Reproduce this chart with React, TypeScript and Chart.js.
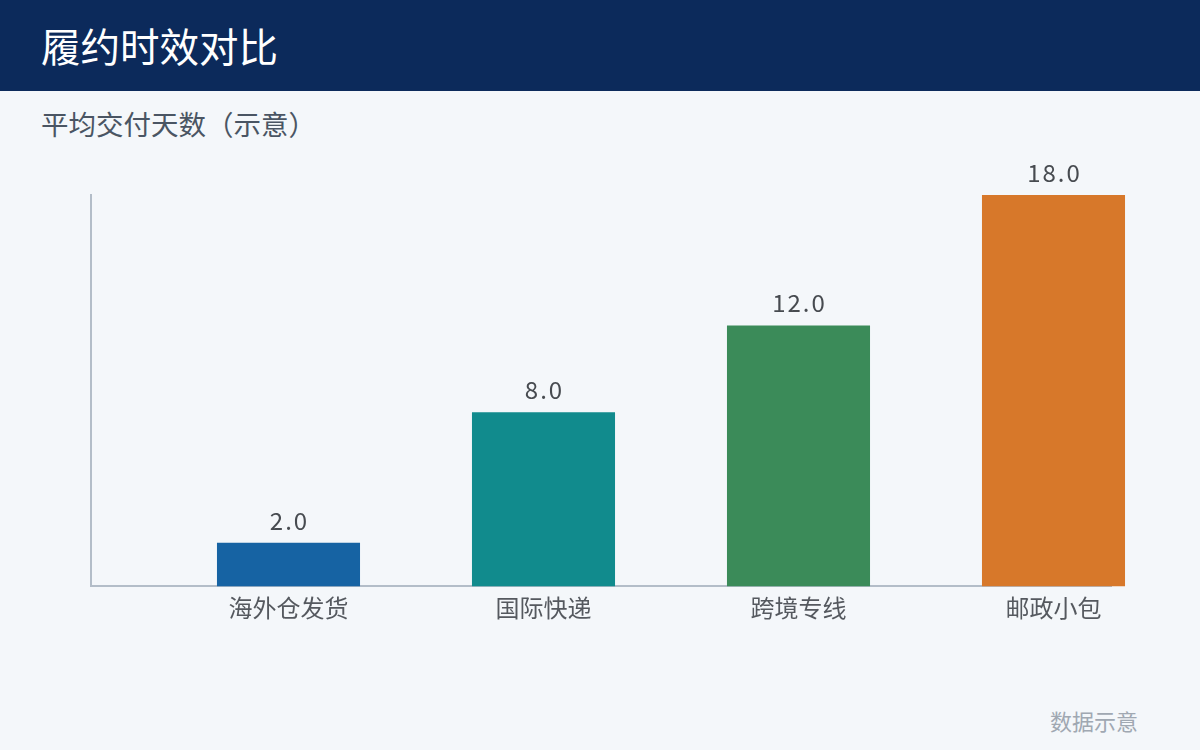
import React, { useEffect, useRef } from "react";
import { Chart, registerables } from "chart.js";

Chart.register(...registerables);

const categories = ["海外仓发货", "国际快递", "跨境专线", "邮政小包"];
const days = [2, 8, 12, 18];
const barColors = ["#1663a3", "#118b8d", "#3b8b59", "#d7782a"];
const yMax = 18;

const CJK = "'Noto Sans CJK SC', 'Noto Sans', sans-serif";

const valueLabels = {
  id: "valueLabels",
  afterDatasetsDraw(chart: any) {
    const ctx = chart.ctx;
    const meta = chart.getDatasetMeta(0);
    ctx.save();
    ctx.font = `24px ${CJK}`;
    try {
      (ctx as any).letterSpacing = "2px";
    } catch (e) {}
    ctx.fillStyle = "#474b50";
    ctx.textAlign = "center";
    ctx.textBaseline = "alphabetic";
    meta.data.forEach((bar: any, i: number) => {
      ctx.fillText(days[i].toFixed(1), bar.x + 1, bar.y - 13);
    });
    ctx.restore();
  },
};

export default function App() {
  const ref = useRef<HTMLCanvasElement | null>(null);

  useEffect(() => {
    if (!ref.current) return;
    const chart = new Chart(ref.current, {
      type: "bar",
      data: {
        datasets: [
          {
            data: days.map((v, i) => ({ x: i, y: v })),
            backgroundColor: barColors,
            borderWidth: 0,
            barPercentage: 0.561,
            categoryPercentage: 1,
            clip: false as any,
          },
        ],
      },
      options: {
        animation: false,
        responsive: false,
        maintainAspectRatio: false,
        layout: { padding: { left: 91, right: 89, top: 195, bottom: 121 } },
        plugins: {
          legend: { display: false },
          tooltip: { enabled: false },
          title: { display: false },
        },
        scales: {
          x: {
            type: "linear",
            min: -0.7745,
            max: 3.2255,
            offset: false,
            grid: { display: false, drawTicks: false },
            border: { display: true, color: "#b3bdc8", width: 2 },
            afterBuildTicks: (scale: any) => {
              scale.ticks = categories.map((_, i) => ({ value: i }));
            },
            ticks: {
              padding: 7,
              autoSkip: false,
              maxRotation: 0,
              color: "#55595f",
              font: { family: CJK, size: 24 },
              callback: (v: any) => categories[v] ?? "",
            },
          },
          y: {
            min: 0,
            max: yMax,
            grid: { display: false, drawTicks: false },
            border: { display: true, color: "#b3bdc8", width: 2 },
            ticks: { display: false },
          },
        },
      },
      plugins: [valueLabels],
    });
    return () => chart.destroy();
  }, []);

  return (
    <div
      style={{
        position: "fixed",
        left: 0,
        top: 0,
        width: 1200,
        height: 750,
        background: "#f4f7fa",
        overflow: "hidden",
        fontFamily: CJK,
      }}
    >
      <div
        style={{
          position: "absolute",
          left: 0,
          top: 0,
          width: 1200,
          height: 91,
          background: "#0c2a5b",
        }}
      />
      <div
        style={{
          position: "absolute",
          left: 41,
          top: 0,
          height: 90,
          lineHeight: "90px",
          fontSize: 39.5,
          color: "#ffffff",
          whiteSpace: "nowrap",
        }}
      >
        履约时效对比
      </div>
      <div
        style={{
          position: "absolute",
          left: 41,
          top: 108,
          lineHeight: "30px",
          fontSize: 27.5,
          color: "#4a5563",
          whiteSpace: "nowrap",
        }}
      >
        平均交付天数（示意）
      </div>
      <div
        style={{
          position: "absolute",
          right: 62,
          top: 707,
          lineHeight: "26px",
          fontSize: 22,
          color: "#a0a8b2",
          whiteSpace: "nowrap",
        }}
      >
        数据示意
      </div>
      <canvas
        ref={ref}
        width={1200}
        height={750}
        style={{ position: "absolute", left: 0, top: 0, width: 1200, height: 750 }}
      />
    </div>
  );
}
